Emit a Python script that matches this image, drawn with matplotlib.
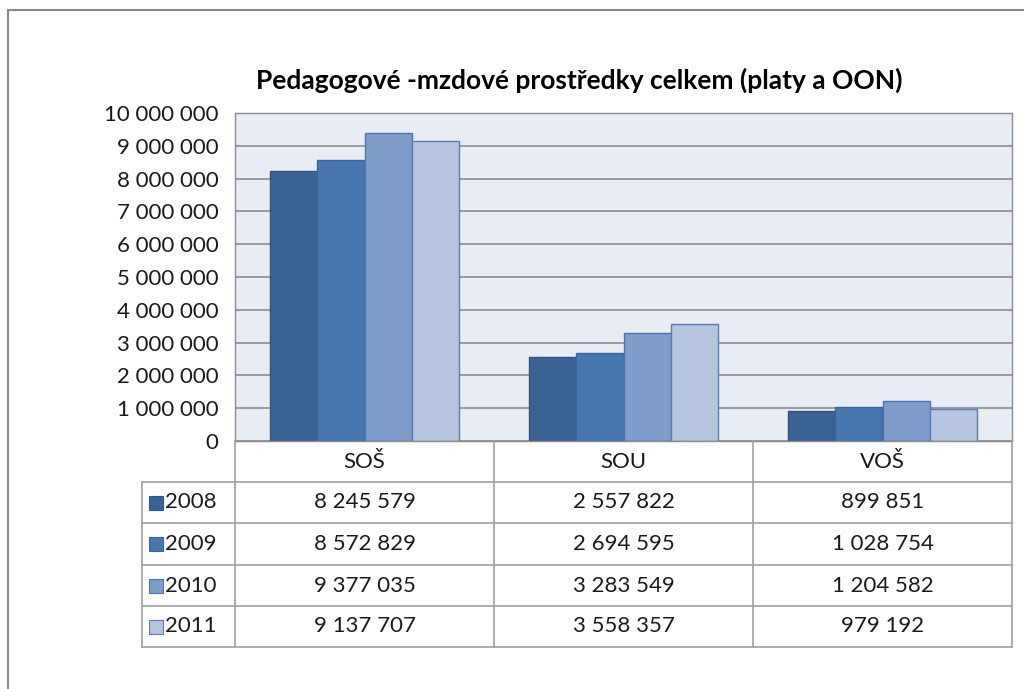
import numpy as np
import matplotlib.pyplot as plt
from matplotlib.patches import Rectangle
from matplotlib.lines import Line2D

plt.rcParams['font.family'] = ['Lato', 'DejaVu Sans']

categories = ['SOŠ', 'SOU', 'VOŠ']
years = ['2008', '2009', '2010', '2011']
values = {
    '2008': [8245579, 2557822, 899851],
    '2009': [8572829, 2694595, 1028754],
    '2010': [9377035, 3283549, 1204582],
    '2011': [9137707, 3558357, 979192],
}
colors = ['#3A6395', '#4777AE', '#7E9CC9', '#B5C4DF']
edges = ['#31557F', '#3B6598', '#4F74A8', '#5B7EB0']

W, H = 1024, 689
FS = 16


def fx(px):
    return px / W


def fy(py):
    return 1 - py / H


def fmt(v):
    return f'{v:,}'.replace(',', ' ')


fig = plt.figure(figsize=(W / 100, H / 100), dpi=100)

# outer chart frame
fig.add_artist(Rectangle((fx(8), fy(700)), fx(1030) - fx(8), fy(10) - fy(700),
                         transform=fig.transFigure, fill=False,
                         edgecolor='#8A8A8A', linewidth=1.5))

# plot area
left, right, top, bottom = 235, 1012, 113, 441
ax = fig.add_axes((fx(left), fy(bottom), fx(right) - fx(left), fy(top) - fy(bottom)))
ax.set_facecolor('#E8ECF4')
ax.set_xlim(0, len(categories))
ax.set_ylim(0, 10_000_000)
ax.set_yticks(np.arange(0, 10_000_001, 1_000_000))
ax.set_yticklabels([fmt(int(t)) for t in ax.get_yticks()], fontsize=FS, color='#1A1A1A')
ax.yaxis.grid(True, color='#8C8C8C', linewidth=1.2)
ax.set_axisbelow(True)
ax.set_xticks([])
ax.tick_params(axis='y', length=0, pad=12)
for s in ax.spines.values():
    s.set_color('#8C8C8C')
    s.set_linewidth(1.0)

bw = 0.182
x = np.arange(len(categories)) + 0.5
for i, yr in enumerate(years):
    ax.bar(x + (i - 1.5) * bw, values[yr], bw, color=colors[i],
           edgecolor=edges[i], linewidth=1.0)

fig.text(fx(579), fy(80), 'Pedagogové -mzdové prostředky celkem (platy a OON)',
         ha='center', va='center', fontsize=19, fontweight='bold')

# data table
grid_c = '#A0A0A0'
col_x = [235, 494, 753, 1012]
row_y = [441, 482, 523, 565, 606, 647]


def hline(y, x0, x1):
    fig.add_artist(Line2D([fx(x0), fx(x1)], [fy(y), fy(y)], transform=fig.transFigure,
                          color=grid_c, linewidth=1.2))


def vline(x0, y0, y1):
    fig.add_artist(Line2D([fx(x0), fx(x0)], [fy(y0), fy(y1)], transform=fig.transFigure,
                          color=grid_c, linewidth=1.2))


for y in row_y[1:]:
    hline(y, 142, 1012)
for cx in col_x:
    vline(cx, 441, 647)
vline(142, 482, 647)

for j, cat in enumerate(categories):
    cx = (col_x[j] + col_x[j + 1]) / 2
    fig.text(fx(cx), fy((row_y[0] + row_y[1]) / 2), cat, ha='center', va='center',
             fontsize=FS, color='#1A1A1A')
    for i, yr in enumerate(years):
        cy = (row_y[i + 1] + row_y[i + 2]) / 2
        fig.text(fx(cx), fy(cy), fmt(values[yr][j]), ha='center', va='center',
                 fontsize=FS, color='#1A1A1A')

for i, yr in enumerate(years):
    cy = (row_y[i + 1] + row_y[i + 2]) / 2
    fig.add_artist(Rectangle((fx(149), fy(cy + 7)), fx(14), fy(0) - fy(14),
                             transform=fig.transFigure, facecolor=colors[i],
                             edgecolor=edges[i], linewidth=0.8))
    fig.text(fx(165), fy(cy), yr, ha='left', va='center', fontsize=FS, color='#1A1A1A')

fig.savefig('out.png', dpi=100)
